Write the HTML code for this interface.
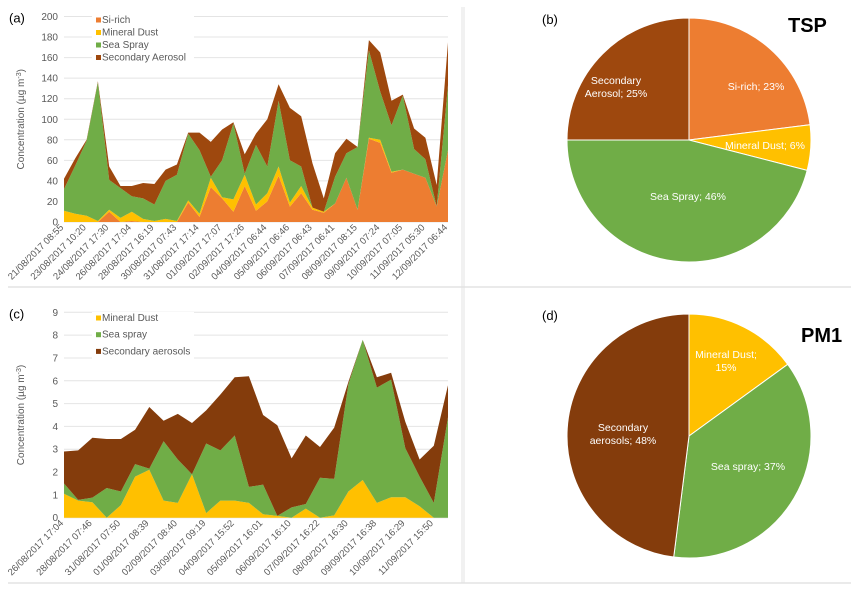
<!DOCTYPE html>
<html><head><meta charset="utf-8"><style>
html,body{margin:0;padding:0;background:#fff;}
svg{display:block;font-family:"Liberation Sans",sans-serif;}
</style></head><body>
<svg id="s" width="851" height="592" viewBox="0 0 851 592" xmlns="http://www.w3.org/2000/svg">
<line x1="8" y1="287" x2="851" y2="287" stroke="#e3e3e3" stroke-width="1.5"/>
<line x1="8" y1="583" x2="851" y2="583" stroke="#e3e3e3" stroke-width="1.5"/>
<line x1="462" y1="7" x2="462" y2="583" stroke="#e3e3e3" stroke-width="1"/>
<line x1="464" y1="7" x2="464" y2="583" stroke="#e3e3e3" stroke-width="1"/>
<g id="ga"></g>
<g id="gc"></g>
<g id="gb"></g>
<g id="gd"></g>
</svg>
<script>
// ---- Panel (a) data ----
const aLabels = ["21/08/2017  08:55","23/08/2017  10:20","24/08/2017  17:30","26/08/2017  17:04","28/08/2017  16:19","30/08/2017  07:43","31/08/2017  17:14","01/09/2017  17:07","02/09/2017  17:26","04/09/2017  06:44","05/09/2017  06:46","06/09/2017  06:43","07/09/2017  06:41","08/09/2017  08:15","09/09/2017  07:24","10/09/2017  07:05","11/09/2017  05:30","12/09/2017  06:44"];
const aSi = [0,0,0,0,10,0,1,0,0,0,0,19,5,34,23,10,35,11,20,45,15,28,12,9,18,43,12,81,77,48,51,47,43,15,70];
const aMD = [11,8,6,1,2,4,9,3,1,3,1,2,3,9,1,12,11,6,8,9,4,7,2,1,0,0,0,1,3,1,0,0,0,0,0];
const aSS = [21,47,73,135,29,29,15,20,16,37,45,65,62,1,36,74,1,58,26,64,41,19,0,0,26,24,61,85,47,45,72,24,18,0,63];
const aSA = [10,7,1,1,13,2,10,15,20,11,10,1,17,34,30,1,19,11,46,16,51,49,43,13,23,14,0,10,38,24,1,20,21,21,42];
const aTicks = [0,20,40,60,80,100,120,140,160,180,200];
// ---- Panel (c) data ----
const cLabels = ["26/08/2017  17:04","28/08/2017  07:46","31/08/2017  07:50","01/09/2017  08:39","02/09/2017  08:40","03/09/2017  09:19","04/09/2017  15:52","05/09/2017  16:01","06/09/2017  16:10","07/09/2017  16:22","08/09/2017  16:30","09/09/2017  16:38","10/09/2017  16:29","11/09/2017  15:50"];
const cMD = [1.05,0.75,0.68,0,0.55,1.8,2.1,0.75,0.65,1.9,0.2,0.75,0.75,0.65,0.15,0.08,0,0.4,0,0.1,1.15,1.65,0.65,0.9,0.9,0.5,0,0];
const cSS = [0.45,0.03,0.2,1.3,0.6,0.55,0.05,2.6,1.9,0,3.05,2.2,2.85,0.7,1.3,0,0.45,0.2,1.75,1.6,4.7,6.15,5.05,5.15,2.15,1.3,0.65,4.4];
const cSA = [1.4,2.17,2.62,2.15,2.3,1.5,2.7,0.9,2.0,2.25,1.45,2.45,2.55,4.85,3.05,3.97,2.15,3.0,1.35,2.25,0.1,0,0.45,0.3,1.15,0.75,2.5,1.4];
const cTicks = [0,1,2,3,4,5,6,7,8,9];
// ---- Pie data ----
const bNames = ["Si-rich","Mineral Dust","Sea Spray","Secondary Aerosol"];
const bVals = [23,6,46,25];
const dNames = ["Mineral Dust","Sea spray","Secondary aerosols"];
const dVals = [15,37,48];

const NS="http://www.w3.org/2000/svg";
function mk(tag,attrs,parent,text){const e=document.createElementNS(NS,tag);for(const k in attrs)e.setAttribute(k,attrs[k]);if(text!==undefined)e.textContent=text;parent.appendChild(e);return e;}

function area(g,cfg){
  const {x0,x1,y0,y1,vmax,series,colors,names,ticks,labels,labelStep,tag,legendY,legendRows}=cfg;
  const n=series[0].length;
  const xs=i=>x0+(x1-x0)*i/(n-1);
  const ys=v=>y0-(y0-y1)*v/vmax;
  ticks.forEach(t=>{
    const l=mk('line',{x1:x0,x2:x1,y1:ys(t),y2:ys(t),stroke:'#e4e4e4','stroke-width':1},g);
    
    
    const tx=mk('text',{x:x0-6,y:ys(t)+3.5,'font-size':10,fill:'#595959','text-anchor':'end'},g,String(t));
    
    
  });
  let base=new Array(n).fill(0);
  series.forEach((s,k)=>{
    const top=base.map((b,i)=>b+s[i]);
    let d='';
    for(let i=0;i<n;i++)d+=(i?'L':'M')+xs(i).toFixed(1)+','+ys(top[i]).toFixed(1);
    for(let i=n-1;i>=0;i--)d+='L'+xs(i).toFixed(1)+','+ys(base[i]).toFixed(1);
    const p=mk('path',{d:d+'Z',fill:colors[k]},g);
    
    
    base=top;
  });
  labels.forEach((lb,j)=>{
    const x=xs(j*labelStep),y=y0+6;
    const t=mk('text',{x:x,y:y,'font-size':9.5,fill:'#595959','text-anchor':'end',transform:`rotate(-45 ${x} ${y})`,'xml:space':'preserve'},g,lb);
    
    
  });
  const at=mk('text',{x:24,y:(y0+y1)/2,'font-size':10,fill:'#595959','text-anchor':'middle',transform:`rotate(-90 24 ${(y0+y1)/2})`},g);
  
  
  at.textContent='Concentration (µg m';
  mk('tspan',{'font-size':7,dy:-3},at,'-3');
  mk('tspan',{dy:3},at,')');
  const tg=mk('text',{x:9,y:y1+6,'font-size':13,fill:'#000'},g,tag);
  
  
  const lg=mk('g',{},g);
  
  
  mk('rect',{x:92,y:legendY-9,width:102,height:legendRows*(cfg.legendGap)+4,fill:'#fff'},lg);
  names.forEach((nm,k)=>{
    const yy=legendY+k*cfg.legendGap;
    const r=mk('rect',{x:96,y:yy-5.5,width:5,height:5,fill:colors[k]},lg);
    
    
    const t=mk('text',{x:102,y:yy,'font-size':10,fill:'#595959'},lg,nm);
    
    
  });
}

area(document.getElementById('ga'),{x0:64,x1:448,y0:222,y1:16.5,vmax:200,series:[aSi,aMD,aSS,aSA],colors:['#ED7D31','#FFC000','#70AD47','#9E480E'],names:['Si-rich','Mineral Dust','Sea Spray','Secondary Aerosol'],ticks:aTicks,labels:aLabels,labelStep:2,tag:'(a)',legendY:23,legendRows:4,legendGap:12.5});
area(document.getElementById('gc'),{x0:64,x1:448,y0:517.7,y1:312.3,vmax:9,series:[cMD,cSS,cSA],colors:['#FFC000','#70AD47','#843C0C'],names:['Mineral Dust','Sea spray','Secondary aerosols'],ticks:cTicks,labels:cLabels,labelStep:2,tag:'(c)',legendY:321,legendRows:3,legendGap:16.7});

function pie(g,cx,cy,r,vals,names,colors,labelPos,tag,tagPos,title,titlePos){
  const tot=vals.reduce((a,b)=>a+b,0);
  let a=-Math.PI/2;
  vals.forEach((v,k)=>{
    const a2=a+2*Math.PI*v/tot;
    const large=(a2-a)>Math.PI?1:0;
    const d=`M${cx},${cy}L${cx+r*Math.cos(a)},${cy+r*Math.sin(a)}A${r},${r} 0 ${large} 1 ${cx+r*Math.cos(a2)},${cy+r*Math.sin(a2)}Z`;
    const p=mk('path',{d:d,fill:colors[k],stroke:'#fff','stroke-width':1},g);
    
    
    a=a2;
  });
  vals.forEach((v,k)=>{
    const lp=labelPos[k];
    const t=mk('text',{x:lp[0],y:lp[1],'font-size':10.5,fill:'#fff','text-anchor':'middle'},g);
    
    
    const txt=(names[k]+'; '+v+'%');
    const lines=lp[2]?[lp[2],lp[3]]:[txt];
    lines.forEach((ln,i)=>mk('tspan',{x:lp[0],dy:i?13:0},t,ln));
  });
  const tg=mk('text',{x:tagPos[0],y:tagPos[1],'font-size':13,fill:'#000'},g,tag);
  
  
  const tt=mk('text',{x:titlePos[0],y:titlePos[1],'font-size':20,'font-weight':'bold',fill:'#000'},g,title);
  
  
}
pie(document.getElementById('gb'),689,140,122,bVals,bNames,['#ED7D31','#FFC000','#70AD47','#9E480E'],
  [[756,90],[765,149],[688,200],[616,84,'Secondary','Aerosol; 25%']],'(b)',[542,24],'TSP',[788,32]);
pie(document.getElementById('gd'),689,436,122,dVals,dNames,['#FFC000','#70AD47','#843C0C'],
  [[726,358,'Mineral Dust;','15%'],[748,470],[623,431,'Secondary','aerosols; 48%']],'(d)',[542,320],'PM1',[801,342]);
</script>
</body></html>
